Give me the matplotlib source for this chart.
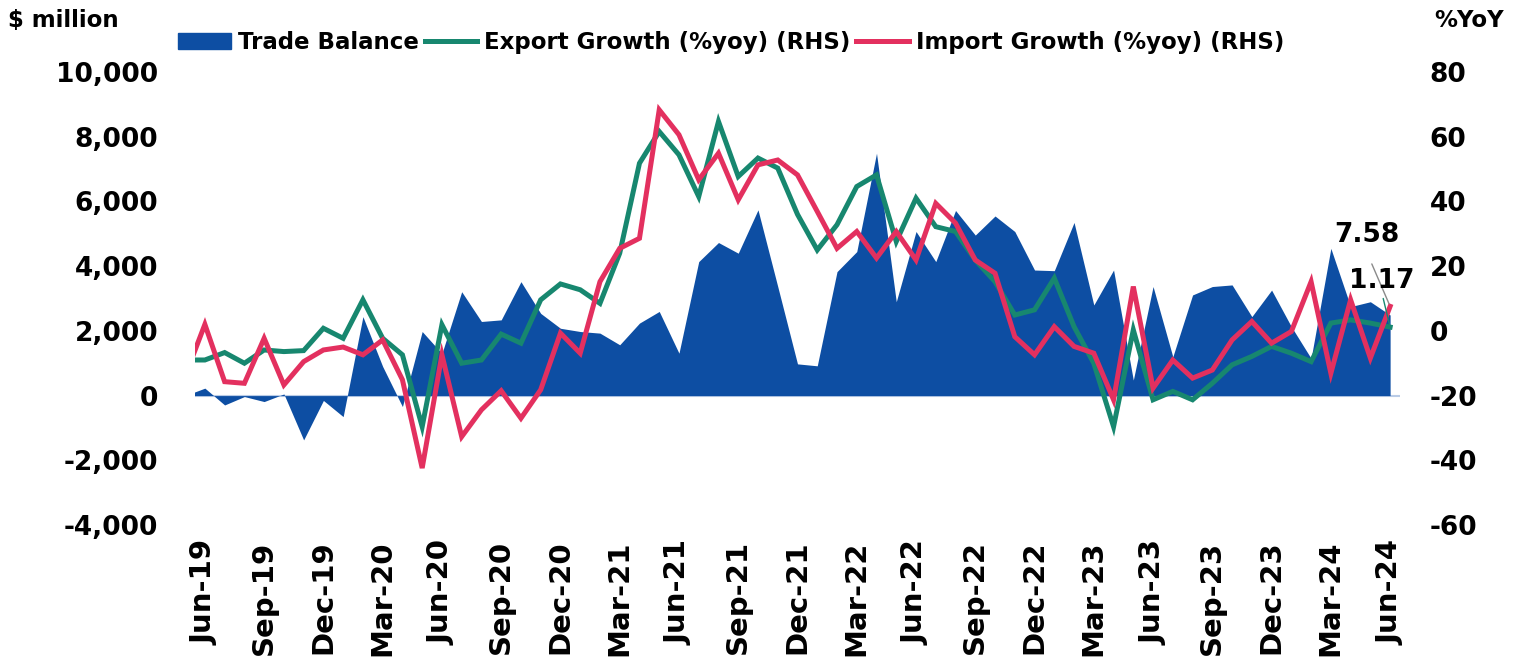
#!/usr/bin/env python3
import matplotlib
matplotlib.use("Agg")
import matplotlib.pyplot as plt
from matplotlib.patches import Patch
from matplotlib.lines import Line2D
from matplotlib.ticker import FuncFormatter, MultipleLocator
import numpy as np


# monthly data, May-19 .. Jun-24 (May-19 only partly visible at the left edge)
months = ["May-19",
          "Jun-19", "Jul-19", "Aug-19", "Sep-19", "Oct-19", "Nov-19", "Dec-19",
          "Jan-20", "Feb-20", "Mar-20", "Apr-20", "May-20", "Jun-20", "Jul-20",
          "Aug-20", "Sep-20", "Oct-20", "Nov-20", "Dec-20", "Jan-21", "Feb-21",
          "Mar-21", "Apr-21", "May-21", "Jun-21", "Jul-21", "Aug-21", "Sep-21",
          "Oct-21", "Nov-21", "Dec-21", "Jan-22", "Feb-22", "Mar-22", "Apr-22",
          "May-22", "Jun-22", "Jul-22", "Aug-22", "Sep-22", "Oct-22", "Nov-22",
          "Dec-22", "Jan-23", "Feb-23", "Mar-23", "Apr-23", "May-23", "Jun-23",
          "Jul-23", "Aug-23", "Sep-23", "Oct-23", "Nov-23", "Dec-23", "Jan-24",
          "Feb-24", "Mar-24", "Apr-24", "May-24", "Jun-24"]

trade_balance = [0,
                 230, -290, -30, -185, 50, -1370, -150,
                 -650, 2440, 900, -340, 1980, 1300, 3210,
                 2290, 2340, 3520, 2540, 2080, 1980, 1930,
                 1570, 2240, 2600, 1310, 4140, 4730, 4400,
                 5740, 3370, 980, 920, 3830, 4450, 7490,
                 2900, 5070, 4140, 5720, 4960, 5550, 5070,
                 3880, 3860, 5350, 2800, 3880, 480, 3370,
                 1200, 3110, 3370, 3420, 2440, 3260, 2130,
                 1150, 4550, 2750, 2900, 2490]

export_growth = [-9.0,
                 -9.0, -6.7, -10.0, -5.9, -6.4, -6.1, 0.8,
                 -2.3, 9.6, -2.3, -7.4, -29.6, 1.9, -10.0,
                 -9.0, -1.0, -3.8, 9.6, 14.5, 12.7, 8.5,
                 24.0, 51.8, 61.6, 54.4, 41.5, 64.7, 47.7,
                 53.4, 50.3, 36.0, 25.0, 32.8, 44.6, 48.2,
                 27.6, 41.0, 32.2, 30.7, 21.9, 15.2, 4.9,
                 6.5, 16.3, 1.3, -10.0, -29.6, 0.3, -21.3,
                 -18.7, -21.3, -16.2, -10.5, -7.9, -4.8, -6.9,
                 -9.5, 2.4, 3.4, 2.4, 1.17]

import_growth = [-14.0,
                 2.0, -15.7, -16.2, -2.3, -16.7, -9.5, -5.9,
                 -5.0, -7.4, -2.8, -15.1, -42.4, -7.4, -32.7,
                 -24.4, -18.5, -27.0, -18.2, -0.7, -6.9, 15.2,
                 25.5, 28.6, 68.3, 60.6, 46.7, 54.9, 40.5,
                 51.3, 52.8, 48.2, 36.9, 25.5, 30.7, 22.5,
                 30.7, 21.9, 39.4, 33.3, 21.9, 17.8, -1.8,
                 -7.4, 1.3, -4.8, -6.9, -21.3, 13.7, -17.7,
                 -9.0, -14.6, -12.1, -2.8, 2.9, -3.8, -0.2,
                 15.2, -13.1, 9.6, -8.4, 7.58]

BLUE = "#0d4ea3"
GREEN = "#17876f"
RED = "#e3305f"


def main():
    x = np.arange(len(months)) - 1   # Jun-19 -> 0

    fig = plt.figure(figsize=(15.14, 6.69), dpi=100)
    ax = fig.add_axes([0.1288, 0.2152, 0.7959, 0.6772])
    ax2 = ax.twinx()

    ax.axhline(0, color="#b9cbe6", lw=1.5, zorder=1)
    ax.fill_between(x, trade_balance, 0, color=BLUE, lw=0, zorder=2)
    ax2.plot(x, export_growth, color=GREEN, lw=3.6, solid_joinstyle="miter")
    ax2.plot(x, import_growth, color=RED, lw=3.6, solid_joinstyle="miter")

    ax.set_xlim(-0.5, 60.5)
    ax.set_ylim(-4000, 10000)
    ax2.set_ylim(-60, 80)
    ax.yaxis.set_major_locator(MultipleLocator(2000))
    ax2.yaxis.set_major_locator(MultipleLocator(20))
    ax.yaxis.set_major_formatter(FuncFormatter(lambda v, p: f"{v:,.0f}"))
    ax2.yaxis.set_major_formatter(FuncFormatter(lambda v, p: f"{v:.0f}"))

    ticks = x[1::3]
    ax.set_xticks(ticks)
    ax.set_xticklabels([months[i + 1] for i in ticks], rotation=90,
                       fontsize=21, fontweight="bold")
    for lab in ax.get_yticklabels() + ax2.get_yticklabels():
        lab.set_fontsize(19)
        lab.set_fontweight("bold")
    ax.tick_params(axis="x", length=0, pad=11)
    ax.tick_params(axis="y", length=0, pad=26.5)
    ax2.tick_params(axis="y", length=0, pad=21.5)

    for a in [ax, ax2]:
        for s in a.spines.values():
            s.set_visible(False)

    # end-point labels
    ax2.annotate("7.58", xy=(x[-1], import_growth[-1]), xytext=(58.8, 29.5),
                 ha="center", va="center", fontsize=19, fontweight="bold",
                 arrowprops=dict(arrowstyle="-", color="#8a8a8a", lw=1,
                                 relpos=(0.48, 0), shrinkA=10, shrinkB=2))
    ax2.annotate("1.17", xy=(x[-1], export_growth[-1]), xytext=(59.6, 15.3),
                 ha="center", va="center", fontsize=19, fontweight="bold",
                 arrowprops=dict(arrowstyle="-", color=GREEN, lw=1,
                                 relpos=(0.5, 0), shrinkA=1, shrinkB=2))

    fig.text(0.005, 0.97, r"\$ million", fontsize=16.5, fontweight="bold",
             ha="left", va="center")
    fig.text(0.993, 0.97, "%YoY", fontsize=16.5, fontweight="bold",
             ha="right", va="center")

    handles = [Patch(facecolor=BLUE, edgecolor=BLUE),
               Line2D([], [], color=GREEN, lw=3.6),
               Line2D([], [], color=RED, lw=3.6)]
    labels = ["Trade Balance", "Export Growth (%yoy) (RHS)",
              "Import Growth (%yoy) (RHS)"]
    fig.legend(handles, labels, loc="center", bbox_to_anchor=(0.483, 0.936),
               ncol=3, frameon=False, handlelength=2.3, handletextpad=0.3,
               columnspacing=0.25, prop={"size": 16.5, "weight": "bold"})

    fig.savefig("out.png", dpi=100)


if __name__ == '__main__':
    main()
